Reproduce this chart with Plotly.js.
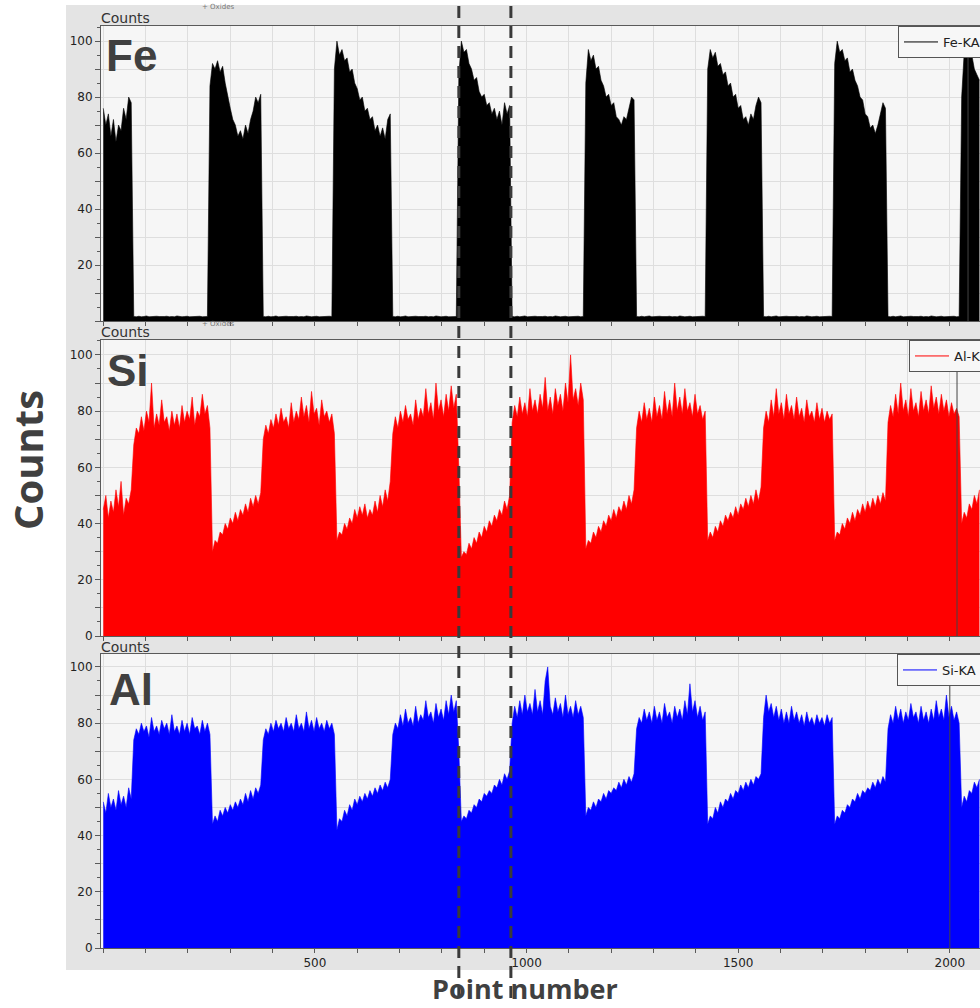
<!DOCTYPE html>
<html>
<head>
<meta charset="utf-8">
<script src="https://cdn.plot.ly/plotly-3.0.1.min.js"></script>
<style>
  html, body { margin: 0; padding: 0; background: #ffffff; }
  #chart { width: 980px; height: 1008px; }
</style>
</head>
<body>
<div id="chart"></div>
<script>
// ---------------- DATA ----------------
// Point numbers are sampled every STEP points; each segment starts at segStart[k]
const STEP = 6;
const segStart = [0, 72, 252, 378, 546, 684, 840, 966, 1140, 1260, 1428, 1560, 1728, 1854, 2028];

// Fe-KA counts (top panel, black)
const feCounts = [
  [76, 70, 74, 66, 72, 64, 70, 68, 76, 72, 80, 78],
  [1.6, 1.5, 1.7, 1.5, 1.6, 1.8, 1.5, 1.6, 1.5, 1.7, 1.6, 1.5, 1.6, 1.7, 1.5, 1.6, 1.5, 1.8, 1.6, 1.5, 1.6, 1.7, 1.5, 1.6, 1.5, 1.6, 1.7, 1.5, 1.6, 1.6],
  [84, 92, 90, 93, 89, 91, 85, 80, 76, 72, 70, 66, 68, 65, 70, 67, 72, 75, 80, 78, 81],
  [1.6, 1.5, 1.7, 1.5, 1.6, 1.8, 1.5, 1.6, 1.5, 1.7, 1.6, 1.5, 1.6, 1.7, 1.5, 1.6, 1.5, 1.8, 1.6, 1.5, 1.6, 1.7, 1.5, 1.6, 1.5, 1.6, 1.7, 1.6],
  [90, 100, 95, 97, 93, 94, 89, 90, 85, 83, 79, 80, 75, 76, 72, 73, 68, 70, 66, 69, 65, 72, 74],
  [1.6, 1.5, 1.7, 1.5, 1.6, 1.8, 1.5, 1.6, 1.5, 1.7, 1.6, 1.5, 1.6, 1.7, 1.5, 1.6, 1.5, 1.8, 1.6, 1.5, 1.6, 1.7, 1.5, 1.6, 1.5, 1.6],
  [88, 100, 96, 97, 92, 90, 86, 87, 82, 80, 81, 77, 78, 74, 76, 72, 75, 70, 78, 74, 77],
  [1.6, 1.5, 1.7, 1.5, 1.6, 1.8, 1.5, 1.6, 1.5, 1.7, 1.6, 1.5, 1.6, 1.7, 1.5, 1.6, 1.5, 1.8, 1.6, 1.5, 1.6, 1.7, 1.5, 1.6, 1.5, 1.6, 1.7, 1.5, 1.6],
  [85, 97, 93, 95, 90, 91, 86, 84, 80, 81, 77, 78, 73, 72, 70, 73, 72, 76, 80, 79],
  [1.6, 1.5, 1.7, 1.5, 1.6, 1.8, 1.5, 1.6, 1.5, 1.7, 1.6, 1.5, 1.6, 1.7, 1.5, 1.6, 1.5, 1.8, 1.6, 1.5, 1.6, 1.7, 1.5, 1.6, 1.5, 1.6, 1.7, 1.6],
  [90, 97, 94, 96, 91, 92, 88, 89, 84, 85, 80, 81, 76, 77, 72, 73, 70, 74, 72, 77, 80, 78],
  [1.6, 1.5, 1.7, 1.5, 1.6, 1.8, 1.5, 1.6, 1.5, 1.7, 1.6, 1.5, 1.6, 1.7, 1.5, 1.6, 1.5, 1.8, 1.6, 1.5, 1.6, 1.7, 1.5, 1.6, 1.5, 1.6, 1.7, 1.6],
  [92, 100, 96, 97, 93, 94, 89, 90, 86, 84, 80, 79, 74, 73, 69, 70, 67, 70, 74, 78, 76],
  [1.6, 1.5, 1.7, 1.5, 1.6, 1.8, 1.5, 1.6, 1.5, 1.7, 1.6, 1.5, 1.6, 1.7, 1.5, 1.6, 1.5, 1.8, 1.6, 1.5, 1.6, 1.7, 1.5, 1.6, 1.5, 1.6, 1.7, 1.5, 1.6],
  [80, 96, 98, 94, 95, 90, 88, 86]
];

// Al-K counts (middle panel, red, labelled "Si")
const alCounts = [
  [45, 50, 42, 48, 44, 52, 46, 55, 43, 49, 47, 52],
  [68, 74, 72, 78, 73, 80, 76, 90, 74, 79, 75, 84, 76, 78, 73, 80, 75, 79, 74, 82, 76, 80, 77, 85, 75, 80, 78, 86, 79, 82],
  [74, 30, 34, 33, 37, 36, 40, 38, 42, 40, 44, 41, 45, 43, 47, 44, 49, 46, 50, 47, 51],
  [70, 75, 72, 77, 74, 79, 75, 81, 76, 78, 74, 83, 76, 80, 77, 85, 78, 82, 76, 87, 79, 81, 75, 84, 78, 80, 76, 79],
  [72, 34, 37, 36, 40, 38, 42, 40, 45, 42, 46, 43, 47, 42, 45, 43, 48, 44, 50, 46, 52, 48, 55],
  [72, 78, 74, 80, 76, 82, 77, 79, 75, 84, 77, 81, 78, 88, 79, 83, 77, 90, 80, 84, 78, 86, 80, 89, 81, 86],
  [60, 28, 30, 29, 33, 31, 35, 33, 37, 35, 39, 37, 41, 39, 43, 41, 45, 43, 48, 45, 50],
  [76, 82, 78, 85, 79, 83, 78, 88, 80, 84, 79, 86, 81, 92, 80, 85, 79, 88, 82, 86, 80, 90, 83, 100, 84, 88, 82, 90, 84],
  [31, 34, 33, 37, 35, 39, 37, 41, 39, 43, 41, 45, 42, 46, 44, 48, 45, 50, 47, 52],
  [74, 80, 76, 83, 77, 81, 76, 85, 78, 82, 77, 87, 79, 84, 78, 90, 80, 85, 79, 88, 80, 83, 78, 86, 79, 82, 77, 80],
  [34, 37, 35, 39, 37, 41, 39, 43, 41, 44, 42, 46, 43, 47, 45, 49, 46, 50, 47, 52, 48, 53],
  [74, 80, 76, 84, 78, 88, 79, 83, 77, 86, 79, 82, 77, 85, 78, 81, 76, 84, 78, 80, 76, 83, 77, 81, 76, 80, 77, 79],
  [34, 37, 36, 40, 38, 42, 40, 44, 41, 45, 43, 47, 44, 48, 45, 49, 46, 50, 47, 51, 48],
  [76, 82, 78, 86, 79, 90, 80, 84, 78, 88, 80, 83, 78, 87, 80, 84, 79, 89, 81, 85, 79, 86, 80, 84, 78, 83, 79, 81, 78],
  [40, 44, 42, 47, 45, 50, 47, 52]
];

// Si-KA counts (bottom panel, blue, labelled "Al")
const siCounts = [
  [52, 48, 55, 50, 53, 49, 56, 51, 54, 50, 57, 53],
  [74, 78, 76, 80, 77, 79, 75, 82, 77, 79, 76, 81, 78, 80, 76, 83, 77, 79, 76, 81, 77, 80, 76, 82, 78, 79, 76, 81, 77, 80],
  [76, 44, 47, 45, 49, 47, 50, 48, 51, 49, 52, 50, 53, 51, 55, 52, 56, 53, 57, 55, 58],
  [74, 78, 76, 80, 77, 81, 78, 80, 77, 82, 78, 80, 77, 83, 78, 80, 77, 84, 78, 81, 77, 82, 78, 80, 77, 81, 78, 80],
  [76, 42, 46, 45, 49, 47, 51, 49, 53, 51, 54, 52, 55, 53, 56, 54, 57, 55, 58, 56, 59, 57, 60],
  [76, 80, 78, 83, 79, 85, 80, 82, 79, 86, 80, 83, 81, 88, 82, 84, 80, 87, 82, 85, 81, 88, 83, 90, 84, 88],
  [70, 45, 47, 46, 49, 48, 51, 50, 53, 52, 55, 54, 56, 55, 58, 57, 60, 58, 62, 60, 63],
  [80, 86, 82, 88, 83, 90, 84, 87, 83, 92, 84, 88, 83, 95, 100, 86, 83, 89, 84, 87, 82, 90, 83, 86, 82, 88, 83, 86, 82],
  [47, 50, 49, 52, 50, 53, 52, 55, 53, 56, 55, 57, 56, 59, 57, 60, 58, 61, 59, 62],
  [78, 82, 80, 85, 81, 84, 80, 86, 81, 84, 80, 87, 82, 84, 80, 86, 82, 85, 81, 88, 83, 94, 84, 88, 82, 86, 81, 84],
  [44, 47, 46, 50, 48, 52, 50, 53, 52, 55, 53, 56, 55, 58, 56, 59, 57, 60, 58, 61, 60, 62],
  [82, 90, 84, 87, 82, 86, 81, 85, 80, 84, 80, 86, 81, 84, 80, 83, 79, 84, 80, 82, 79, 83, 80, 82, 79, 83, 80, 82],
  [44, 47, 46, 49, 48, 51, 50, 53, 52, 55, 53, 56, 55, 57, 56, 59, 57, 60, 58, 61, 59],
  [78, 83, 80, 86, 81, 85, 80, 84, 81, 87, 82, 84, 80, 86, 81, 84, 80, 85, 81, 88, 82, 85, 81, 90, 82, 86, 81, 84, 80],
  [50, 54, 52, 56, 55, 59, 57, 60]
];

const seriesNames = ['Fe-KA', 'Al-K', 'Si-KA'];
const panelLabels = ['Fe', 'Si', 'Al'];
const seriesColors = ['#000000', '#ff0000', '#0000ff'];
const boundaryLines = [840, 963];       // dashed vertical markers (point number)
const cursorLines = [2043, 2017, 2000]; // thin cursor line per panel (point number)

const xTickVals = [0, 100, 200, 300, 400, 500, 600, 700, 800, 900, 1000, 1100, 1200, 1300, 1400, 1500, 1600, 1700, 1800, 1900, 2000];
const xTickText = ['', '', '', '', '', '500', '', '', '', '', '1000', '', '', '', '', '1500', '', '', '', '', '2000'];
const yTickVals = [0, 10, 20, 30, 40, 50, 60, 70, 80, 90, 100];
const yTickTextTop = ['', '', '20', '', '40', '', '60', '', '80', '', '100'];
const yTickText = ['0', '', '20', '', '40', '', '60', '', '80', '', '100'];

// ---------------- BUILD ----------------
function flatten(segs) {
  const xs = [], ys = [];
  segs.forEach((seg, k) => {
    seg.forEach((v, j) => { xs.push(segStart[k] + j * STEP); ys.push(v); });
  });
  return { xs, ys };
}

const allSeries = [feCounts, alCounts, siCounts];
const axisIds = [['x', 'y'], ['x2', 'y2'], ['x3', 'y3']];
const legendIds = ['legend', 'legend2', 'legend3'];

const traces = [];
allSeries.forEach((segs, i) => {
  const d = flatten(segs);
  traces.push({
    type: 'scatter', mode: 'lines', x: d.xs, y: d.ys,
    xaxis: axisIds[i][0], yaxis: axisIds[i][1],
    fill: 'tozeroy', fillcolor: seriesColors[i],
    line: { color: seriesColors[i], width: 0.6 },
    showlegend: false, hoverinfo: 'skip'
  });
  // legend entry (line sample only)
  traces.push({
    type: 'scatter', mode: 'lines', x: [null], y: [null],
    xaxis: axisIds[i][0], yaxis: axisIds[i][1],
    name: seriesNames[i], legend: legendIds[i],
    line: { color: seriesColors[i], width: 1 }
  });
});

const H = 1008, L = 101, PW = 879;
const py = px => 1 - px / H;          // pixel row -> paper y
const pxx = px => (px - L) / PW;       // pixel column -> paper x

const gridColor = '#dedede';
const lineColor = '#5a5a5a';
const tickFont = { family: 'DejaVu Sans, Verdana, sans-serif', size: 12, color: '#222' };

function xAxis(anchor, showLabels) {
  return {
    anchor: anchor, range: [-5.4, 2071.3], matches: anchor === 'y' ? undefined : 'x',
    tickmode: 'array', tickvals: xTickVals, ticktext: showLabels ? xTickText : xTickVals.map(() => ''),
    ticks: 'outside', ticklen: 4, tickcolor: lineColor, tickfont: tickFont,
    showgrid: true, gridcolor: gridColor, gridwidth: 1,
    showline: true, linecolor: lineColor, linewidth: 1, mirror: true,
    zeroline: false, fixedrange: true
  };
}
function yAxis(domain, top, text) {
  return {
    domain: domain, range: [0, top],
    tickmode: 'array', tickvals: yTickVals, ticktext: text,
    ticks: 'outside', ticklen: 5, tickcolor: lineColor, tickfont: tickFont,
    minor: { dtick: 5, tick0: 0, ticks: 'outside', ticklen: 3, tickcolor: lineColor, showgrid: false },
    showgrid: true, gridcolor: gridColor, gridwidth: 1,
    showline: true, linecolor: lineColor, linewidth: 1, mirror: true,
    zeroline: false, fixedrange: true
  };
}

const shapes = [
  // white surround outside the gray frame
  { type: 'rect', xref: 'paper', yref: 'paper', x0: pxx(0), x1: pxx(66), y0: 0, y1: 1, fillcolor: '#ffffff', line: { width: 0 }, layer: 'below' },
  { type: 'rect', xref: 'paper', yref: 'paper', x0: pxx(0), x1: pxx(980), y0: py(5), y1: 1, fillcolor: '#ffffff', line: { width: 0 }, layer: 'below' },
  { type: 'rect', xref: 'paper', yref: 'paper', x0: pxx(0), x1: pxx(980), y0: 0, y1: py(970), fillcolor: '#ffffff', line: { width: 0 }, layer: 'below' }
];
cursorLines.forEach((xv, i) => {
  shapes.push({ type: 'line', xref: axisIds[i][0], yref: axisIds[i][1] + ' domain', x0: xv, x1: xv, y0: 0, y1: 1,
    line: { color: '#444444', width: 1 }, layer: 'above' });
});
boundaryLines.forEach(xv => {
  shapes.push({ type: 'line', xref: 'x', yref: 'paper', x0: xv, x1: xv, y0: py(998), y1: py(5),
    line: { color: '#3a3a3a', width: 3, dash: '12px,8px' }, layer: 'above' });
});

const headerFont = { family: 'DejaVu Sans, Verdana, sans-serif', size: 14, color: '#333' };
const smallFont = { family: 'DejaVu Sans, Verdana, sans-serif', size: 7, color: '#777' };
const bigFont = { family: 'Liberation Sans, Arial, sans-serif', size: 44, color: '#404040', weight: 700 };
const titleFont = { family: 'Open Sans, sans-serif', size: 40, color: '#404040', weight: 700 };

const annotations = [
  { text: 'Counts', xref: 'paper', yref: 'paper', x: pxx(99), y: py(18), xanchor: 'left', yanchor: 'middle', showarrow: false, font: headerFont },
  { text: '+ Oxides', xref: 'paper', yref: 'paper', x: pxx(200), y: py(7), xanchor: 'left', yanchor: 'middle', showarrow: false, font: smallFont },
  { text: 'Counts', xref: 'paper', yref: 'paper', x: pxx(99), y: py(332), xanchor: 'left', yanchor: 'middle', showarrow: false, font: headerFont },
  { text: '+ Oxides', xref: 'paper', yref: 'paper', x: pxx(200), y: py(324), xanchor: 'left', yanchor: 'middle', showarrow: false, font: smallFont },
  { text: 'Counts', xref: 'paper', yref: 'paper', x: pxx(99), y: py(647), xanchor: 'left', yanchor: 'middle', showarrow: false, font: headerFont },
  { text: panelLabels[0], xref: 'paper', yref: 'paper', x: pxx(104), y: py(55), xanchor: 'left', yanchor: 'middle', showarrow: false, font: bigFont },
  { text: panelLabels[1], xref: 'paper', yref: 'paper', x: pxx(105), y: py(370), xanchor: 'left', yanchor: 'middle', showarrow: false, font: bigFont },
  { text: panelLabels[2], xref: 'paper', yref: 'paper', x: pxx(107), y: py(689), xanchor: 'left', yanchor: 'middle', showarrow: false, font: bigFont },
  { text: 'Counts', xref: 'paper', yref: 'paper', x: pxx(28), y: py(460), xanchor: 'center', yanchor: 'middle', textangle: -90, showarrow: false, font: titleFont },
  { text: 'Point number', xref: 'paper', yref: 'paper', x: pxx(525), y: 0, xanchor: 'center', yanchor: 'bottom', borderpad: 0, showarrow: false, font: { family: 'Open Sans, sans-serif', size: 27, color: '#404040', weight: 700 } }
];

function legendAt(pxLeft, pxTop) {
  return {
    x: pxx(pxLeft), y: py(pxTop), xanchor: 'left', yanchor: 'top',
    bgcolor: '#f7f7f7', bordercolor: '#555', borderwidth: 1,
    font: { family: 'DejaVu Sans, Verdana, sans-serif', size: 13, color: '#222' },
    tracegroupgap: 0, itemwidth: 34
  };
}

const layout = {
  width: 980, height: 1008,
  margin: { l: L, r: 0, t: 0, b: 0, pad: 0, autoexpand: false },
  paper_bgcolor: '#e4e4e4', plot_bgcolor: '#f6f6f6',
  showlegend: true,
  xaxis: xAxis('y', false),
  xaxis2: xAxis('y2', false),
  xaxis3: xAxis('y3', true),
  yaxis: yAxis([py(321), py(26)], 105.4, yTickTextTop),
  yaxis2: yAxis([py(636), py(340)], 105.3, yTickText),
  yaxis3: yAxis([py(948), py(654)], 104.6, yTickText),
  legend: legendAt(898, 26),
  legend2: legendAt(909, 340),
  legend3: legendAt(897, 654),
  shapes: shapes,
  annotations: annotations
};

Plotly.newPlot('chart', traces, layout, { staticPlot: true, displayModeBar: false });
</script>
</body>
</html>
